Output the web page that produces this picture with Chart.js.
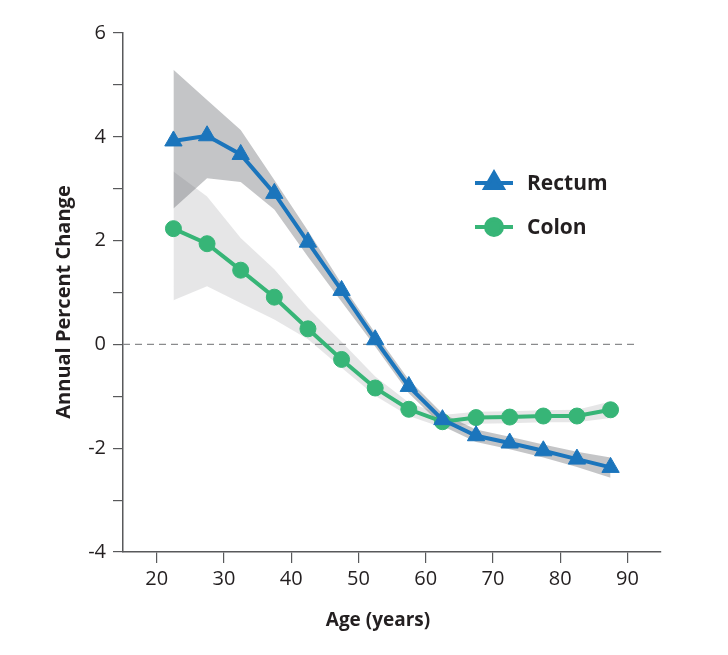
<!DOCTYPE html>
<html>
<head>
<meta charset="utf-8">
<script src="https://cdn.jsdelivr.net/npm/chart.js@4/dist/chart.umd.min.js"></script>
<style>
  html, body { margin: 0; padding: 0; background: #ffffff; }
  #wrap { position: relative; width: 728px; height: 655px; }
</style>
</head>
<body>
<div id="wrap"><canvas id="c" width="728" height="655"></canvas></div>
<script>
// ---- data ----
const ages = [22.5, 27.5, 32.5, 37.5, 42.5, 47.5, 52.5, 57.5, 62.5, 67.5, 72.5, 77.5, 82.5, 87.5];
const rectum = [3.92, 4.02, 3.66, 2.91, 1.97, 1.04, 0.09, -0.81, -1.45, -1.76, -1.90, -2.05, -2.21, -2.37];
const rectumUpper = [5.29, 4.71, 4.13, 3.17, 2.19, 1.17, 0.22, -0.68, -1.33, -1.64, -1.78, -1.93, -2.07, -2.18];
const rectumLower = [2.62, 3.20, 3.13, 2.60, 1.69, 0.82, -0.04, -0.94, -1.57, -1.88, -2.02, -2.18, -2.36, -2.57];
const colon = [2.23, 1.94, 1.43, 0.91, 0.30, -0.29, -0.84, -1.25, -1.49, -1.41, -1.40, -1.38, -1.38, -1.26];
const colonUpper = [3.33, 2.85, 2.05, 1.45, 0.70, 0.05, -0.62, -1.12, -1.36, -1.30, -1.29, -1.27, -1.26, -1.10];
const colonLower = [0.85, 1.12, 0.80, 0.48, 0.10, -0.45, -0.99, -1.38, -1.60, -1.53, -1.52, -1.50, -1.50, -1.42];
const xTickValues = [20, 30, 40, 50, 60, 70, 80, 90];
const seriesNames = ['Rectum', 'Colon'];
const xTitle = 'Age (years)';
const yTitle = 'Annual Percent Change';

const pts = (ys) => ages.map((a, i) => ({ x: a, y: ys[i] }));

const BLUE = '#1b75bc';
const GREEN = '#37b577';
const TXT = '#231f20';
const AXIS = '#58595b';
const FONT = '"Open Sans", "DejaVu Sans", sans-serif';

const zeroLine = {
  id: 'zeroLine',
  beforeDatasetsDraw(chart) {
    const { ctx, scales: { x, y } } = chart;
    const py = y.getPixelForValue(0);
    ctx.save();
    ctx.strokeStyle = '#8a8b8d';
    ctx.lineWidth = 1.2;
    ctx.setLineDash([7, 5]);
    ctx.beginPath();
    ctx.moveTo(x.getPixelForValue(15), py);
    ctx.lineTo(x.getPixelForValue(91), py);
    ctx.stroke();
    ctx.restore();
  }
};

const titlesAndLegend = {
  id: 'titlesAndLegend',
  afterDraw(chart) {
    const { ctx } = chart;
    ctx.save();
    ctx.fillStyle = TXT;
    ctx.textAlign = 'center';
    ctx.textBaseline = 'middle';
    ctx.font = 'bold 19px ' + FONT;
    ctx.fillText(xTitle, 378, 621);
    ctx.font = 'bold 20px ' + FONT;
    ctx.translate(64, 302);
    ctx.rotate(-Math.PI / 2);
    ctx.fillText(yTitle, 0, 0);
    ctx.restore();

    // legend
    const items = [
      { ds: chart.data.datasets[4], y: 183 },
      { ds: chart.data.datasets[5], y: 227 }
    ];
    items.forEach(it => {
      const ds = it.ds;
      ctx.save();
      ctx.strokeStyle = ds.borderColor;
      ctx.lineWidth = ds.borderWidth;
      ctx.beginPath();
      ctx.moveTo(475, it.y);
      ctx.lineTo(513, it.y);
      ctx.stroke();
      ctx.fillStyle = ds.pointBackgroundColor;
      ctx.strokeStyle = ds.pointBorderColor;
      Chart.helpers.drawPoint(ctx, {
        pointStyle: ds.pointStyle, radius: ds.pointRadius,
        borderWidth: ds.pointBorderWidth, rotation: 0
      }, 494, it.y);
      ctx.fillStyle = TXT;
      ctx.font = 'bold 21px ' + FONT;
      ctx.textAlign = 'left';
      ctx.textBaseline = 'middle';
      ctx.fillText(ds.label, 527, it.y + 1);
      ctx.restore();
    });
  }
};

const bandStyle = { borderWidth: 0, pointRadius: 0, pointHoverRadius: 0, tension: 0 };

new Chart(document.getElementById('c'), {
  type: 'line',
  data: {
    datasets: [
      Object.assign({ label: 'Rectum upper', data: pts(rectumUpper), fill: '+1',
        backgroundColor: 'rgba(100,102,108,0.38)', order: 10 }, bandStyle),
      Object.assign({ label: 'Rectum lower', data: pts(rectumLower), fill: false, order: 10 }, bandStyle),
      Object.assign({ label: 'Colon upper', data: pts(colonUpper), fill: '+1',
        backgroundColor: 'rgba(100,102,108,0.16)', order: 11 }, bandStyle),
      Object.assign({ label: 'Colon lower', data: pts(colonLower), fill: false, order: 11 }, bandStyle),
      { label: seriesNames[0], data: pts(rectum), borderColor: BLUE, backgroundColor: BLUE,
        borderWidth: 4, pointStyle: 'triangle', pointRadius: 10, pointBorderWidth: 1,
        pointBackgroundColor: BLUE, pointBorderColor: BLUE, tension: 0, fill: false, order: 1 },
      { label: seriesNames[1], data: pts(colon), borderColor: GREEN, backgroundColor: GREEN,
        borderWidth: 4, pointStyle: 'circle', pointRadius: 8, pointBorderWidth: 1,
        pointBackgroundColor: GREEN, pointBorderColor: GREEN, tension: 0, fill: false, order: 2 }
    ]
  },
  options: {
    responsive: false,
    animation: false,
    events: [],
    layout: { padding: { left: 0, top: 33, right: 67, bottom: 0 } },
    plugins: { legend: { display: false }, tooltip: { enabled: false } },
    scales: {
      x: {
        type: 'linear', min: 15, max: 95,
        afterBuildTicks(s) { s.ticks = xTickValues.map(v => ({ value: v })); },
        afterFit(s) { s.height = 103; },
        grid: { display: true, drawOnChartArea: false, drawTicks: true, tickLength: 11,
                color: AXIS, lineWidth: 1.2 },
        border: { display: true, color: AXIS, width: 1.5 },
        ticks: { color: TXT, font: { family: FONT, size: 20 }, padding: 4, maxRotation: 0,
                 callback: v => String(v) }
      },
      y: {
        type: 'linear', min: -4, max: 6,
        ticks: { stepSize: 1, color: TXT, font: { family: FONT, size: 20 }, padding: 7,
                 callback: v => (v % 2 === 0 ? String(v) : '') },
        afterFit(s) { s.width = 123; },
        grid: { display: true, drawOnChartArea: false, drawTicks: true, tickLength: 10,
                color: AXIS, lineWidth: 1.2 },
        border: { display: true, color: AXIS, width: 1.5 }
      }
    }
  },
  plugins: [zeroLine, titlesAndLegend]
});
</script>
</body>
</html>
